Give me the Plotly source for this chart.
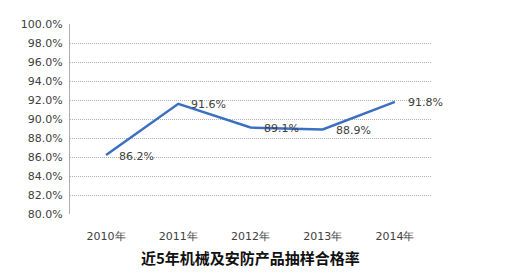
import plotly.graph_objects as go

years = ["2010年", "2011年", "2012年", "2013年", "2014年"]
rates = [86.2, 91.6, 89.1, 88.9, 91.8]
labels = ["86.2%", "91.6%", "89.1%", "88.9%", "91.8%"]
yticks = [80, 82, 84, 86, 88, 90, 92, 94, 96, 98, 100]
ytext = [f"{v:.1f}%" for v in yticks]
title = "近5年机械及安防产品抽样合格率"

fig = go.Figure()
fig.add_trace(go.Scatter(
    x=years, y=rates, mode="lines",
    line=dict(color="#3b6fc2", width=2.5),
    showlegend=False,
))

annotations = [dict(
    x=xv, y=yv, text=t, xref="x", yref="y", showarrow=False,
    xanchor="left", yanchor="middle", xshift=11, yshift=-1,
    font=dict(family="DejaVu Sans", size=11, color="#404040"),
) for xv, yv, t in zip(years, rates, labels)]
annotations.append(dict(
    text=f"<b>{title}</b>", x=0.5, y=-0.165, xref="paper", yref="paper",
    xanchor="center", yanchor="top", showarrow=False,
    font=dict(family="Noto Sans CJK SC", size=15, color="#111111"),
))

fig.update_layout(
    width=518, height=272,
    margin=dict(l=62, r=95, t=16, b=66),
    paper_bgcolor="white", plot_bgcolor="white",
    font=dict(family="DejaVu Sans", size=11, color="#404040"),
    xaxis=dict(
        range=[-0.5, 4.5], automargin=False,
        showgrid=False, showline=False, zeroline=False,
        ticks="outside", ticklen=12, tickcolor="rgba(0,0,0,0)",
        tickfont=dict(family="DejaVu Sans", size=11, color="#404040"),
    ),
    yaxis=dict(
        range=[80, 100], tickvals=yticks, ticktext=ytext, automargin=False,
        showgrid=True, gridcolor="#b0b0b0", griddash="1px,1px", gridwidth=1,
        showline=True, linecolor="#b0b0b0", linewidth=1,
        zeroline=False, ticks="outside", ticklen=4, tickcolor="rgba(0,0,0,0)",
        tickfont=dict(family="DejaVu Sans", size=11, color="#404040"),
    ),
    annotations=annotations,
)
fig.write_html("out.html")
